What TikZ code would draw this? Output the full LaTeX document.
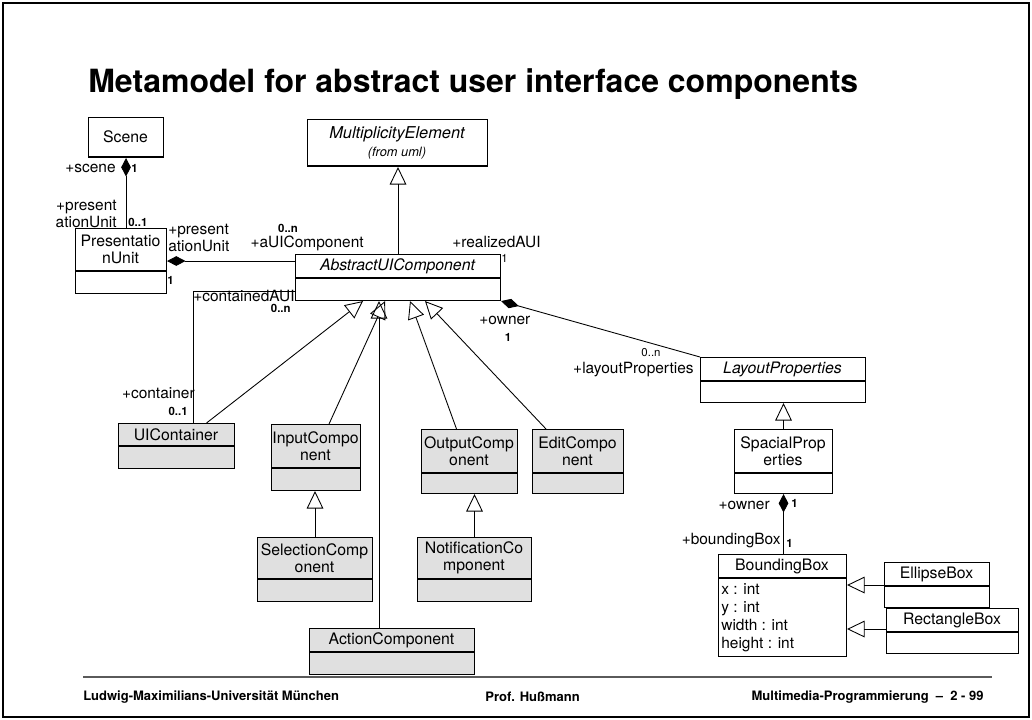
\documentclass[tikz,border=0pt]{standalone}
\usepackage{fontspec}
\setmainfont{TeX Gyre Heros}
\usetikzlibrary{arrows.meta}

\definecolor{boxgray}{RGB}{224,224,224}
\definecolor{rulegray}{RGB}{90,90,90}
\newcommand{\pxu}{0.02cm}

\tikzset{
  classbox/.style={draw, line width=0.6pt, inner sep=0pt, anchor=north west},
  classname/.style={font=\fontsize{9}{10}\selectfont, align=center, inner sep=0pt},
  role/.style={font=\fontsize{8.8}{10}\selectfont, inner sep=0pt},
  mult/.style={font=\fontsize{6.5}{7}\selectfont\bfseries, inner sep=0pt},
  multreg/.style={font=\fontsize{6.5}{7}\selectfont, inner sep=0pt},
  generalize/.style={-{Triangle[open, length=10pt, width=9.5pt]}, line width=0.5pt},
  compose/.style={{Diamond[length=10.5pt, width=5.5pt]}-, line width=0.5pt},
  footer/.style={font=\fontsize{7.4}{8}\selectfont\bfseries, inner sep=0pt}
}

\begin{document}
\begin{tikzpicture}[x=0.02cm, y=-0.02cm]

 \useasboundingbox (0,0) rectangle (1032,720);
 \draw[line width=1pt] (3,3) rectangle (1029,717);

 % title
 \node[anchor=west, inner sep=0pt, font=\fontsize{18.2}{20}\selectfont\bfseries] (title) at (88,84)
   {Metamodel for abstract user interface components};

 % classes: name / x1 / y1 / x2 / y2 / divider / fill / text
 \foreach \n/\xa/\ya/\xb/\yb/\yd/\fc/\txt in {
   scene/88/117/163/157/157/white/Scene,
   pu/75/228/166/293/271/white/{Presentatio\\nUnit},
   me/307/119/487/166/166/white/{},
   auic/295/254/500/300/278/white/{\itshape AbstractUIComponent},
   uic/118/423/234/468/446/boxgray/UIContainer,
   inp/271/424/360/490/468/boxgray/{InputCompo\\nent},
   sel/257/537/372/601/579/boxgray/{SelectionComp\\onent},
   ac/309/628/474/674/652/boxgray/ActionComponent,
   out/421/429/517/493/473/boxgray/{OutputComp\\onent},
   noti/417/537/531/601/579/boxgray/{NotificationCo\\mponent},
   edit/532/429/623/493/473/boxgray/{EditCompo\\nent},
   lp/700/357/865/402/381/white/{\itshape LayoutProperties},
   sp/734/429/832/493/473/white/{SpacialProp\\erties},
   bb/718/554/846/656/578/white/BoundingBox,
   eb/884/562/989/607/586/white/EllipseBox,
   rb/886/608/1018/653/632/white/RectangleBox}
 {
   \node[classbox, fill=\fc, minimum width={(\xb-\xa)*\pxu}, minimum height={(\yb-\ya)*\pxu}] (\n) at (\xa,\ya) {};
   \draw[line width=0.6pt] (\xa,\yd) -- (\xb,\yd);
   \node[classname] (\n-name) at ({(\xa+\xb)/2},{(\ya+\yd)/2}) {\txt};
 }

 \node[classname, font=\fontsize{9.3}{10}\selectfont\itshape] (me-title) at (397,134) {MultiplicityElement};
 \node[classname, font=\fontsize{7.3}{8}\selectfont\itshape] (me-from) at (397,153) {(from uml)};

 \foreach \i/\y/\t in {1/594/x : int, 2/612/y : int, 3/630/width : int, 4/648/height : int}
 {
   \node[role, anchor=base west] (bb-attr\i) at (721,\y) {\t};
 }

 % associations
 \draw[compose] (scene.south) -- (scene.south |- pu.north);
 \draw[compose] (pu.east) -- (pu.east -| auic.west);
 \draw[line width=0.5pt] ([yshift=-14*\pxu]auic.west) -| ([xshift=17*\pxu]uic.north);
 \draw[compose] (auic.south east) -- (lp.north west);
 \draw[compose] (sp.south) -- (sp.south |- bb.north);

 % generalizations
 \draw[generalize] (auic.north) -- (auic.north |- me.south);
 \draw[generalize] ([xshift=30*\pxu]uic.north) -- ([xshift=-35*\pxu]auic.south);
 \draw[generalize] ([xshift=13*\pxu]inp.north) -- ([xshift=-13*\pxu]auic.south);
 \draw[generalize] ([xshift=-13*\pxu]ac.north) -- ([xshift=-13*\pxu]ac.north |- auic.south);
 \draw[generalize] ([xshift=-13*\pxu]out.north) -- ([xshift=12*\pxu]auic.south);
 \draw[generalize] ([xshift=-32*\pxu]edit.north) -- ([xshift=27*\pxu]auic.south);
 \draw[generalize] (sel.north) -- (sel.north |- inp.south);
 \draw[generalize] (noti.north) -- (noti.north |- out.south);
 \draw[generalize] (sp.north) -- (sp.north |- lp.south);
 \draw[generalize] (eb.west) -- (eb.west -| bb.east);
 \draw[generalize] ([yshift=2*\pxu]rb.west) -- ([yshift=2*\pxu]rb.west -| bb.east);

 % role names and multiplicities
 \node[role, anchor=east] (r-scene) at (116,168) {+scene};
 \node[mult, anchor=west] (m-scene) at (131,168) {1};
 \node[role, anchor=east, align=right] (r-pu1) at (117,214) {+present\\ationUnit};
 \node[mult, anchor=west] (m-pu1) at (128,222) {0..1};
 \node[role, anchor=west, align=left] (r-pu2) at (168,238) {+present\\ationUnit};
 \node[mult, anchor=west] (m-pu2) at (167,280) {1};
 \node[mult] (m-aui) at (288,228) {0..n};
 \node[role, anchor=east] (r-aui) at (364,243) {+aUIComponent};
 \node[role, anchor=west] (r-real) at (452,242) {+realizedAUI};
 \node[multreg, anchor=west] (m-real) at (501,258) {1};
 \node[role, anchor=west] (r-cont) at (193,296) {+containedAUI};
 \node[mult, anchor=east] (m-cont) at (291,308) {0..n};
 \node[role, anchor=east] (r-uic) at (195,393) {+container};
 \node[mult, anchor=east] (m-uic) at (188,411) {0..1};
 \node[role, anchor=west] (r-owner) at (479,320) {+owner};
 \node[mult] (m-owner) at (508,337) {1};
 \node[multreg] (m-lp) at (651,353) {0..n};
 \node[role, anchor=east] (r-lp) at (694,370) {+layoutProperties};
 \node[role, anchor=east] (r-sp) at (770,505) {+owner};
 \node[mult, anchor=west] (m-sp) at (791,503) {1};
 \node[role, anchor=east] (r-bb) at (781,541) {+boundingBox};
 \node[mult, anchor=west] (m-bb) at (786,543) {1};

 % footer
 \draw[line width=1.2pt, rulegray] (83,677) -- (992,677);
 \node[footer, anchor=west] (f-uni) at (83,697) {Ludwig-Maximilians-Universität München};
 \node[footer, anchor=west] (f-prof) at (485,697) {Prof. Hußmann};
 \node[footer, anchor=east] (f-course) at (984,697) {Multimedia-Programmierung \ -- \ 2 - 99};

\end{tikzpicture}
\end{document}
